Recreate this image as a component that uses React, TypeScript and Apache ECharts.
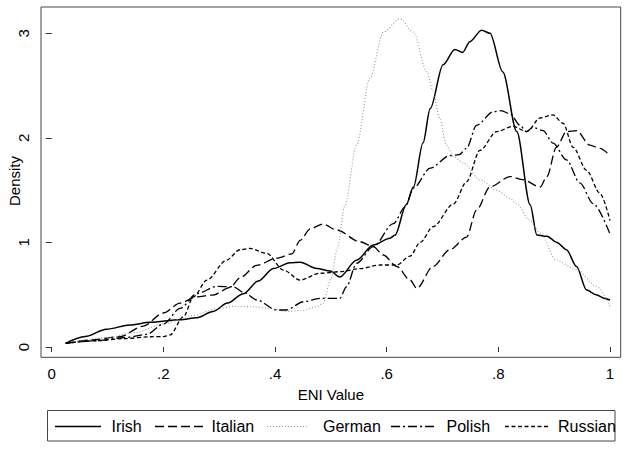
import React, { useEffect, useRef } from "react";
import * as echarts from "echarts";

const seriesNames = ["Irish", "Italian", "German", "Polish", "Russian"];

const irish = [
  [0.025, 0.035], [0.06, 0.1], [0.098, 0.17], [0.14, 0.21], [0.176, 0.236], [0.23, 0.26],
  [0.26, 0.28], [0.289, 0.34], [0.315, 0.42], [0.343, 0.51], [0.37, 0.63], [0.397, 0.75],
  [0.427, 0.806], [0.445, 0.81], [0.475, 0.75], [0.499, 0.727], [0.516, 0.67], [0.546, 0.83],
  [0.576, 0.975], [0.606, 1.04], [0.615, 1.07], [0.635, 1.36], [0.648, 1.53], [0.665, 1.95],
  [0.678, 2.28], [0.701, 2.7], [0.722, 2.846], [0.736, 2.817], [0.749, 2.92], [0.77, 3.03],
  [0.785, 3.0], [0.808, 2.63], [0.833, 2.06], [0.857, 1.36], [0.869, 1.07], [0.887, 1.06],
  [0.905, 1.0], [0.922, 0.93], [0.94, 0.77], [0.958, 0.545], [0.975, 0.5], [0.991, 0.465],
  [1.0, 0.45],
];

const italian = [
  [0.025, 0.035], [0.069, 0.067], [0.122, 0.098], [0.164, 0.2], [0.2, 0.325], [0.23, 0.42],
  [0.26, 0.48], [0.289, 0.497], [0.32, 0.57], [0.337, 0.66], [0.367, 0.78], [0.403, 0.85],
  [0.43, 0.89], [0.445, 1.02], [0.463, 1.13], [0.486, 1.176], [0.51, 1.12], [0.552, 1.007],
  [0.576, 0.96], [0.594, 0.88], [0.618, 0.77], [0.642, 0.64], [0.654, 0.56], [0.683, 0.77],
  [0.713, 0.93], [0.743, 1.05], [0.761, 1.31], [0.785, 1.53], [0.821, 1.63], [0.844, 1.6],
  [0.875, 1.53], [0.887, 1.63], [0.904, 1.91], [0.922, 2.06], [0.94, 2.07], [0.964, 1.93],
  [0.982, 1.9], [1.0, 1.83],
];

const german = [
  [0.025, 0.035], [0.1, 0.09], [0.15, 0.14], [0.2, 0.22], [0.25, 0.3], [0.3, 0.37],
  [0.33, 0.39], [0.361, 0.385], [0.39, 0.37], [0.42, 0.34], [0.45, 0.35], [0.475, 0.385],
  [0.486, 0.42], [0.5, 0.65], [0.512, 0.95], [0.525, 1.35], [0.546, 1.93], [0.57, 2.57],
  [0.594, 3.01], [0.624, 3.14], [0.648, 3.01], [0.672, 2.63], [0.683, 2.45], [0.695, 2.19],
  [0.707, 1.93], [0.72, 1.82], [0.737, 1.76], [0.767, 1.6], [0.797, 1.5], [0.821, 1.42],
  [0.833, 1.37], [0.855, 1.22], [0.875, 1.09], [0.904, 0.83], [0.94, 0.74], [0.976, 0.58],
  [1.0, 0.39],
];

const polish = [
  [0.025, 0.035], [0.08, 0.06], [0.13, 0.09], [0.17, 0.12], [0.2, 0.22], [0.23, 0.37],
  [0.26, 0.51], [0.296, 0.58], [0.325, 0.576], [0.345, 0.52], [0.367, 0.45], [0.403, 0.354],
  [0.42, 0.354], [0.451, 0.433], [0.48, 0.465], [0.516, 0.465], [0.528, 0.576], [0.546, 0.8],
  [0.576, 0.96], [0.612, 1.18], [0.633, 1.34], [0.648, 1.52], [0.678, 1.71], [0.713, 1.83],
  [0.73, 1.84], [0.743, 1.9], [0.761, 2.12], [0.791, 2.25], [0.805, 2.26], [0.821, 2.23],
  [0.839, 2.12], [0.85, 2.06], [0.862, 2.1], [0.88, 2.07], [0.898, 1.95], [0.922, 1.79],
  [0.946, 1.57], [0.97, 1.37], [1.0, 1.08],
];

const russian = [
  [0.025, 0.035], [0.08, 0.06], [0.13, 0.08], [0.176, 0.098], [0.2, 0.1], [0.212, 0.115],
  [0.236, 0.29], [0.254, 0.48], [0.278, 0.64], [0.313, 0.83], [0.337, 0.93], [0.355, 0.943],
  [0.385, 0.896], [0.415, 0.736], [0.445, 0.64], [0.48, 0.705], [0.516, 0.72], [0.552, 0.75],
  [0.588, 0.784], [0.618, 0.784], [0.642, 0.87], [0.66, 1.0], [0.683, 1.15], [0.72, 1.37],
  [0.743, 1.58], [0.767, 1.88], [0.797, 2.06], [0.826, 2.11], [0.851, 2.06], [0.875, 2.19],
  [0.898, 2.22], [0.916, 2.14], [0.934, 1.91], [0.958, 1.69], [0.982, 1.47], [1.0, 1.21],
];

const FONT = "'Liberation Sans', Arial, Helvetica, sans-serif";

const styles = [
  { color: "#000", width: 1.5, type: "solid" as any },
  { color: "#000", width: 1.3, type: [9, 4] },
  { color: "#999", width: 1.1, type: [1, 2] },
  { color: "#000", width: 1.3, type: [9, 3, 2, 3] },
  { color: "#000", width: 1.3, type: [4, 2.5] },
];

const datasets = [irish, italian, german, polish, russian];

// legend layout (pixel positions of key line start/end and label start)
const legendKeys = [
  { x1: 55, x2: 101, tx: 111.5 },
  { x1: 155, x2: 203, tx: 211.5 },
  { x1: 267, x2: 307, tx: 323 },
  { x1: 391, x2: 435, tx: 446.5 },
  { x1: 505, x2: 548, tx: 558 },
];

function fmtX(v: number) {
  if (v === 0) return "0";
  if (v === 1) return "1";
  return String(Math.round(v * 10) / 10).replace(/^0/, "");
}

export default function App() {
  const ref = useRef<HTMLDivElement>(null);
  useEffect(() => {
    if (!ref.current) return;
    const chart = echarts.init(ref.current, null, { renderer: "svg" });
    const legendY = 426.5;
    const legendGraphics: any[] = [];
    seriesNames.forEach((name, i) => {
      const k = legendKeys[i];
      const st = styles[i];
      legendGraphics.push({
        type: "line",
        shape: { x1: k.x1, y1: legendY, x2: k.x2, y2: legendY },
        style: {
          stroke: st.color,
          lineWidth: st.width,
          lineDash: Array.isArray(st.type) ? st.type : null,
        },
        silent: true,
      });
      legendGraphics.push({
        type: "text",
        x: k.tx,
        y: legendY,
        style: {
          text: name,
          fontSize: 16,
          fontFamily: FONT,
          fill: "#000",
          textAlign: "left",
          textVerticalAlign: "middle",
          verticalAlign: "middle",
        },
        silent: true,
      });
    });
    chart.setOption({
      animation: false,
      backgroundColor: "#fff",
      textStyle: { fontFamily: FONT, color: "#000" },
      grid: { left: 51.7, right: 19, top: 33.3, bottom: 103, outerBoundsMode: "none", containLabel: false },
      xAxis: {
        type: "value",
        min: 0,
        max: 1,
        interval: 0.2,
        offset: 10.3,
        name: "ENI Value",
        nameLocation: "middle",
        nameGap: 30,
        nameTextStyle: { fontSize: 15, color: "#000", fontFamily: FONT },
        axisLine: { show: false },
        axisTick: { show: true, length: 5, lineStyle: { color: "#333" } },
        axisLabel: {
          fontSize: 15,
          color: "#000",
          margin: 9,
          fontFamily: FONT,
          formatter: (v: number) => fmtX(v),
        },
        splitLine: { show: false },
      },
      yAxis: {
        type: "value",
        min: 0,
        max: 3,
        interval: 1,
        offset: 10.7,
        axisLine: { show: false },
        axisTick: { show: true, length: 6, lineStyle: { color: "#333" } },
        axisLabel: {
          fontSize: 15,
          color: "#000",
          margin: 10,
          rotate: 90,
          fontFamily: FONT,
        },
        splitLine: { show: false },
      },
      graphic: [
        {
          type: "rect",
          shape: { x: 41, y: 7, width: 579.7, height: 350.3 },
          style: { fill: "none", stroke: "#444", lineWidth: 1 },
          silent: true,
        },
        {
          type: "rect",
          shape: { x: 47.5, y: 410.5, width: 567.5, height: 30.5 },
          style: { fill: "none", stroke: "#444", lineWidth: 1 },
          silent: true,
        },
        {
          type: "text",
          x: 14,
          y: 181,
          rotation: Math.PI / 2,
          style: {
            text: "Density",
            fontSize: 15,
            fontFamily: FONT,
            fill: "#000",
            textAlign: "center",
            textVerticalAlign: "middle",
            verticalAlign: "middle",
            align: "center",
          },
          silent: true,
        },
        ...legendGraphics,
      ],
      series: seriesNames.map((name, i) => ({
        name,
        type: "line",
        data: datasets[i],
        showSymbol: false,
        symbol: "none",
        smooth: 0.3,
        smoothMonotone: "x",
        clip: false,
        lineStyle: styles[i],
        itemStyle: { color: styles[i].color },
      })),
    });
    return () => chart.dispose();
  }, []);
  return <div ref={ref} style={{ width: 629, height: 450, position: "absolute", left: 0, top: 0 }} />;
}
